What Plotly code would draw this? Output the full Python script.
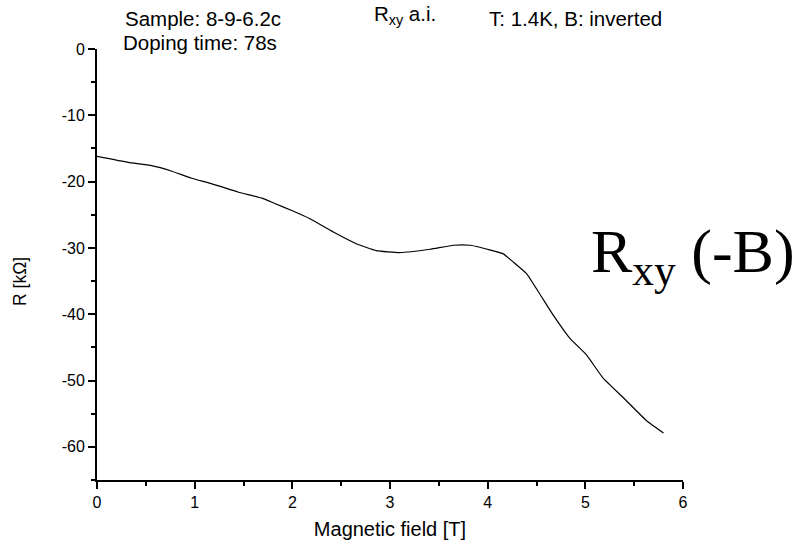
import plotly.graph_objects as go

# Data
field_T = [0, 0.32, 0.56, 0.76, 0.97, 1.17, 1.45, 1.69, 1.82, 2.0, 2.18, 2.42, 2.66, 2.86,
           3.10, 3.41, 3.65, 3.82, 3.92, 4.02, 4.16, 4.26, 4.40, 4.54, 4.67, 4.84, 5.01,
           5.18, 5.39, 5.63, 5.80]
r_kohm = [-16.2, -17.1, -17.6, -18.4, -19.5, -20.3, -21.6, -22.5, -23.3, -24.4, -25.6,
          -27.6, -29.4, -30.4, -30.7, -30.2, -29.6, -29.6, -29.9, -30.3, -30.9, -32.1,
          -33.9, -37.1, -40.1, -43.6, -46.1, -49.6, -52.6, -56.1, -57.9]

x_ticks = [0, 1, 2, 3, 4, 5, 6]
x_labels = ["0", "1", "2", "3", "4", "5", "6"]
y_ticks = [0, -10, -20, -30, -40, -50, -60]
y_labels = ["0", "-10", "-20", "-30", "-40", "-50", "-60"]

SANS = "Liberation Sans, Arial, sans-serif"
SERIF = "Liberation Serif, Times New Roman, serif"

fig = go.Figure()
fig.add_trace(go.Scatter(x=field_T, y=r_kohm, mode="lines",
                         line=dict(color="black", width=1.2, shape="spline", smoothing=0.4),
                         showlegend=False, hoverinfo="skip"))

axis_common = dict(showline=True, linecolor="black", linewidth=2, ticks="outside",
                   tickcolor="black", tickwidth=1.5, ticklen=7, showgrid=False,
                   zeroline=False, tickfont=dict(family=SANS, size=16, color="black"),
                   minor=dict(ticks="outside", ticklen=4, tickcolor="black", tickwidth=1.5))

fig.update_layout(
    width=798, height=549,
    margin=dict(l=97, r=115, t=49, b=66),
    paper_bgcolor="white", plot_bgcolor="white",
    xaxis=dict(range=[0, 6], tickvals=x_ticks, ticktext=x_labels, **axis_common,
               title=dict(text="Magnetic field [T]", font=dict(family=SANS, size=20, color="black"),
                          standoff=12)),
    yaxis=dict(range=[-65, 0], tickvals=y_ticks, ticktext=y_labels, **axis_common),
)
fig.update_xaxes(minor=dict(dtick=0.5, tick0=0))
fig.update_yaxes(minor=dict(dtick=5, tick0=0))

ann_font = dict(family=SANS, size=20.5, color="black")
annotations = [
    dict(text="Sample: 8-9-6.2c", x=0.044, y=1.0714, xanchor="left", yanchor="middle", font=ann_font),
    dict(text="Doping time: 78s", x=0.041, y=1.0145, xanchor="left", yanchor="middle", font=ann_font),
    dict(text="R<sub>xy</sub> a.i.", x=0.470, y=1.08, xanchor="left", yanchor="middle", font=ann_font),
    dict(text="T: 1.4K, B: inverted", x=0.666, y=1.0714, xanchor="left", yanchor="middle", font=ann_font),
    dict(text="R<sub>xy</sub> (-B)", x=0.840, y=0.521, xanchor="left", yanchor="middle",
         font=dict(family=SERIF, size=62, color="black")),
    dict(text="R [kΩ]", x=-0.131, y=0.46, xanchor="center", yanchor="middle", textangle=-90,
         font=dict(family=SANS, size=17.5, color="black")),
]
for a in annotations:
    a.update(xref="paper", yref="paper", showarrow=False)
    fig.add_annotation(**a)

fig.write_html("out.html")
